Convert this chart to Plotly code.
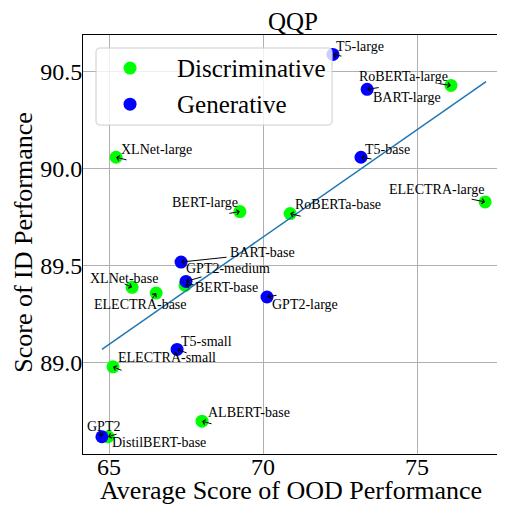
import plotly.graph_objects as go

# ---------------------------------------------------------------------
# Data
# ---------------------------------------------------------------------
disc_names = ['XLNet-large', 'XLNet-base', 'RoBERTa-large', 'RoBERTa-base', 'BERT-large',
              'BERT-base', 'ELECTRA-large', 'ELECTRA-base', 'ELECTRA-small', 'ALBERT-base',
              'DistilBERT-base']
disc_x = [65.23, 65.75, 76.10, 70.88, 69.25, 67.47, 77.21, 66.53, 65.13, 68.02, 64.97]
disc_y = [90.06, 89.39, 90.43, 89.77, 89.78, 89.40, 89.83, 89.36, 88.98, 88.70, 88.62]

gen_names = ['T5-large', 'T5-base', 'T5-small', 'BART-large', 'BART-base',
             'GPT2', 'GPT2-medium', 'GPT2-large']
gen_x = [72.27, 73.18, 67.21, 73.38, 67.34, 64.77, 67.50, 70.13]
gen_y = [90.59, 90.06, 89.07, 90.41, 89.52, 88.62, 89.42, 89.34]

trend_x = [64.77, 77.24]
trend_y = [89.07, 90.45]

x_ticks = [65, 70, 75]
y_ticks = [89.0, 89.5, 90.0, 90.5]

# label placement in pixels: (text dx, text dy, arrow tail dx, arrow tail dy)
label_offsets = {
    'T5-large': (1, -8, 10, 2), 'RoBERTa-large': (-94, -9, -13, -2),
    'BART-large': (4, 8, 13, -2), 'XLNet-large': (3, -8, 12, 3),
    'T5-base': (2, -8, 12, 2), 'ELECTRA-large': (-98, -12, -15, -3),
    'BERT-large': (-70, -9, -12, 2), 'RoBERTa-base': (3, -9, 12, 3),
    'BART-base': (47, -10, 47, -5), 'GPT2-medium': (-2, -13, 17, -5),
    'BERT-base': (8, 2, 10, -1), 'XLNet-base': (-44, -9, -9, -4),
    'ELECTRA-base': (-64, 11, -5, 7), 'GPT2-large': (3, 7, 11, -2),
    'T5-small': (2, -8, 11, 4), 'ELECTRA-small': (3, -9, 10, 4),
    'ALBERT-base': (4, -9, 11, 3), 'GPT2': (-17, -10, -2, -6),
    'DistilBERT-base': (2, 6, 10, -3),
}

FONT = 'Liberation Serif'
GREEN = '#00ff00'
BLUE = '#0000ff'
LINE = '#1f77b4'


def rounded_rect(x0, y0, x1, y1, r):
    """ path for a rounded rectangle in paper coords """
    return (f'M{x0 + r},{y0} L{x1 - r},{y0} Q{x1},{y0} {x1},{y0 + r} '
            f'L{x1},{y1 - r} Q{x1},{y1} {x1 - r},{y1} L{x0 + r},{y1} '
            f'Q{x0},{y1} {x0},{y1 - r} L{x0},{y0 + r} Q{x0},{y0} {x0 + r},{y0} Z')


# ---------------------------------------------------------------------
# Figure
# ---------------------------------------------------------------------
data = [
    go.Scatter(x=disc_x, y=disc_y, mode='markers', name='Discriminative',
               marker=dict(color=GREEN, size=13, line=dict(width=0))),
    go.Scatter(x=gen_x, y=gen_y, mode='markers', name='Generative',
               marker=dict(color=BLUE, size=13, line=dict(width=0))),
    go.Scatter(x=trend_x, y=trend_y, mode='lines', line=dict(color=LINE, width=1.5)),
]

annotations = []
for names, xs, ys in [(disc_names, disc_x, disc_y), (gen_names, gen_x, gen_y)]:
    for name, x, y in zip(names, xs, ys):
        tdx, tdy, adx, ady = label_offsets[name]
        annotations.append(dict(x=x, y=y, text='', showarrow=True, ax=adx, ay=ady,
                                arrowhead=4, arrowsize=1, arrowwidth=1, arrowcolor='black',
                                standoff=0, startstandoff=0))
        annotations.append(dict(x=x, y=y, text=name, showarrow=False, xanchor='left',
                                yanchor='middle', xshift=tdx, yshift=-tdy,
                                font=dict(family=FONT, size=14, color='black')))

# axis titles
annotations.append(dict(x=0.495, y=-0.088, xref='paper', yref='paper', showarrow=False,
                        text='Average Score of OOD Performance', xanchor='center', yanchor='middle',
                        font=dict(family=FONT, size=26, color='black')))
annotations.append(dict(x=-0.142, y=0.505, xref='paper', yref='paper', showarrow=False,
                        text='Score of ID Performance', textangle=-90,
                        xanchor='center', yanchor='middle',
                        font=dict(family=FONT, size=26, color='black')))

# hand drawn legend (matplotlib style)
leg_y = [0.921, 0.835]
for yy, name in zip(leg_y, ['Discriminative', 'Generative']):
    annotations.append(dict(x=0.219, y=yy, xref='paper', yref='paper', text=name,
                            showarrow=False, xanchor='left', yanchor='middle',
                            font=dict(family=FONT, size=25, color='black')))

shapes = [dict(type='path', xref='paper', yref='paper',
               path=rounded_rect(0.031, 0.785, 0.593, 0.969, 0.01),
               fillcolor='rgba(255,255,255,0.8)', line=dict(color='#cccccc', width=1))]
for yy, color in zip(leg_y, [GREEN, BLUE]):
    shapes.append(dict(type='circle', xref='paper', yref='paper',
                       x0=0.112 - 0.0155, x1=0.112 + 0.0155, y0=yy - 0.0155, y1=yy + 0.0155,
                       fillcolor=color, line=dict(width=0)))

axis_common = dict(showgrid=True, gridcolor='#b0b0b0', gridwidth=1, showline=True,
                   linecolor='black', linewidth=1, mirror=True, ticks='', zeroline=False,
                   automargin=False, tickfont=dict(family=FONT, size=24, color='black'))

# page body has an 8px margin, so the figure is a bit smaller than the window
layout = go.Layout(
    width=497, height=498, margin=dict(l=75, r=2, t=27, b=52),
    paper_bgcolor='white', plot_bgcolor='white', showlegend=False,
    font=dict(family=FONT, color='black'),
    title=dict(text='QQP', x=0.5, xref='paper', y=0.974, yref='container', yanchor='middle',
               font=dict(family=FONT, size=25, color='black')),
    xaxis=dict(range=[64.156, 77.79], tickvals=x_ticks, ticklabelstandoff=-9, **axis_common),
    yaxis=dict(range=[88.531, 90.69], tickvals=y_ticks, tickformat='.1f', ticklabelstandoff=-5,
               **axis_common),
    annotations=annotations, shapes=shapes,
)

fig = go.Figure(data=data, layout=layout)
fig.write_html('out.html')
